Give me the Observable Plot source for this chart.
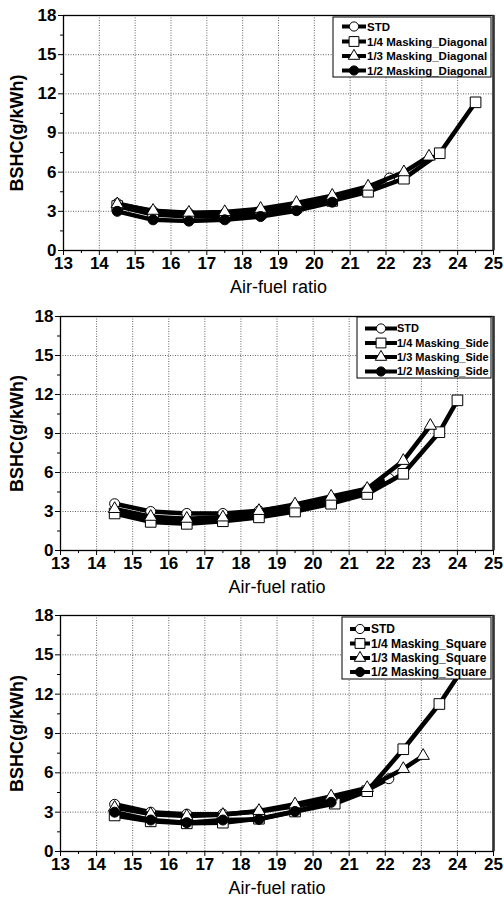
<!DOCTYPE html>
<html>
<head>
<meta charset="utf-8">
<script src="https://cdn.jsdelivr.net/npm/d3@7"></script>
<script src="https://cdn.jsdelivr.net/npm/@observablehq/plot@0.6"></script>
<style>
  body { margin: 0; background: white; }
  #chart svg { display: block; }
</style>
</head>
<body>
<div id="chart"></div>
<script>
// ---------- data ----------
const xTicks = [13,14,15,16,17,18,19,20,21,22,23,24,25];
const yTicks = [0,3,6,9,12,15,18];
const xTitle = "Air-fuel ratio";
const yTitle = "BSHC(g/kWh)";

const afrSTD  = [14.5,15.5,16.5,17.5,18.5,19.5,20.5,21.5,22.1];
const bshcSTD = [3.6,3.0,2.85,2.85,3.05,3.45,3.95,4.7,5.55];

// Panel 1: Diagonal
const afrDiag14  = [14.5,15.5,16.5,17.5,18.5,19.5,20.5,21.5,22.5,23.5,24.5];
const bshcDiag14 = [3.4,2.75,2.6,2.6,2.85,3.3,3.8,4.5,5.5,7.45,11.35];
const afrDiag13  = [14.5,15.5,16.5,17.5,18.5,19.5,20.5,21.5,22.5,23.2];
const bshcDiag13 = [3.55,3.05,2.9,2.95,3.2,3.65,4.2,4.9,6.0,7.2];
const afrDiag12  = [14.5,15.5,16.5,17.5,18.5,19.5,20.5];
const bshcDiag12 = [3.0,2.35,2.25,2.35,2.6,3.05,3.7];

// Panel 2: Side
const afrSide14  = [14.5,15.5,16.5,17.5,18.5,19.5,20.5,21.5,22.5,23.5,24.0];
const bshcSide14 = [2.85,2.2,2.05,2.25,2.55,3.0,3.6,4.35,5.9,9.1,11.55];
const afrSide13  = [14.5,15.5,16.5,17.5,18.5,19.5,20.5,21.5,22.5,23.25];
const bshcSide13 = [3.2,2.6,2.45,2.55,3.05,3.55,4.15,4.75,6.9,9.6];
const afrSide12  = [14.5,15.5,16.5,17.5,18.5,19.5,20.5,21.5];
const bshcSide12 = [3.0,2.4,2.3,2.4,2.8,3.3,3.85,4.5];

// Panel 3: Square
const afrSq14  = [14.5,15.5,16.5,17.5,18.5,19.5,20.6,21.5,22.5,23.5,24.5];
const bshcSq14 = [2.75,2.3,2.15,2.2,2.5,3.05,3.65,4.6,7.8,11.25,15.4];
const afrSq13  = [14.5,15.5,16.5,17.5,18.5,19.5,20.5,21.5,22.5,23.05];
const bshcSq13 = [3.35,2.85,2.7,2.8,3.1,3.6,4.2,4.85,6.3,7.3];
const afrSq12  = [14.5,15.5,16.5,17.5,18.5,19.5,20.5];
const bshcSq12 = [3.0,2.4,2.2,2.4,2.45,3.05,3.75];

const panelNames = ["Diagonal","Side","Square"];

// ---------- helpers ----------
const zip = (xs, ys) => xs.map((x, i) => ({x, y: ys[i]}));
const styles = [
  {symbol: "circle",   r: 5,   fill: "white"},   // STD
  {symbol: "square",   r: 6,   fill: "white"},   // 1/4
  {symbol: "triangle", r: 4.6, fill: "white"},   // 1/3
  {symbol: "circle",   r: 5,   fill: "black"}    // 1/2
];

function makePanel(cfg) {
  const {series, labels, order, height, mt, mb, ml, mr, legend} = cfg;
  const marks = [
    Plot.gridX(xTicks.slice(1, -1), {stroke: "#666", strokeOpacity: 1, strokeWidth: 1, strokeDasharray: "1,1.5"}),
    Plot.gridY(yTicks.slice(1, -1), {stroke: "#666", strokeOpacity: 1, strokeWidth: 1, strokeDasharray: "1,1.5"}),
  ];
  for (const i of order) {
    const s = styles[i];
    marks.push(Plot.line(series[i], {x: "x", y: "y", stroke: "black", strokeWidth: 4.5, strokeLinejoin: "round"}));
    marks.push(Plot.dot(series[i], {x: "x", y: "y", symbol: () => s.symbol, r: s.r, fill: s.fill, stroke: "black", strokeWidth: 1}));
  }
  marks.push(
    Plot.frame({stroke: "black", strokeWidth: 1.3}),
    Plot.ruleX([25], {stroke: "#333", strokeWidth: 2.6}),
    Plot.axisX(xTicks, {tickSize: 5, tickPadding: 1, fontSize: 17, fontWeight: "bold", label: null}),
    Plot.axisX(d3.range(13.5, 25, 1), {tickSize: 3, tickFormat: () => "", label: null}),
    Plot.axisY(yTicks, {tickSize: 5, tickPadding: 2, fontSize: 17, fontWeight: "bold", label: null}),
    Plot.axisY(d3.range(1.5, 18, 3), {tickSize: 3, tickFormat: () => "", label: null}),
    Plot.text([xTitle], {frameAnchor: "bottom", dy: 42, fontSize: 18, fill: "black"}),
    Plot.text([yTitle], {frameAnchor: "left", textAnchor: "middle", rotate: -90, dx: 17 - ml, fontSize: 18, fontWeight: "bold", fill: "black"})
  );
  const svg = Plot.plot({
    width: 504,
    height,
    marginTop: mt, marginBottom: mb, marginLeft: ml, marginRight: mr,
    x: {domain: [13, 25], axis: null},
    y: {domain: [0, 18], axis: null},
    style: {fontFamily: "'Liberation Sans', Arial, sans-serif", background: "white", color: "black", overflow: "visible"},
    marks
  });

  // legend box
  const g = d3.select(svg).append("g").attr("text-anchor", "start");
  g.append("rect")
    .attr("x", legend.x0).attr("y", legend.y0)
    .attr("width", legend.x1 - legend.x0).attr("height", legend.y1 - legend.y0)
    .attr("fill", "white").attr("stroke", "black").attr("stroke-width", 1);
  labels.forEach((lab, i) => {
    const cy = legend.rows[i];
    const s = styles[i];
    g.append("line").attr("x1", legend.lx0).attr("x2", legend.lx1)
      .attr("y1", cy).attr("y2", cy).attr("stroke", "black").attr("stroke-width", 4);
    const sym = s.symbol === "circle" ? d3.symbolCircle : s.symbol === "square" ? d3.symbolSquare : d3.symbolTriangle;
    g.append("path").attr("d", d3.symbol(sym, Math.PI * s.r * s.r * 0.85)())
      .attr("transform", `translate(${(legend.lx0 + legend.lx1) / 2},${cy})`)
      .attr("fill", s.fill).attr("stroke", "black").attr("stroke-width", 1);
    g.append("text").attr("x", legend.tx).attr("y", cy).attr("dy", "0.36em")
      .attr("text-anchor", "start")
      .attr("font-size", legend.fs).attr("font-weight", "bold").attr("fill", "black")
      .attr("font-family", "'Liberation Sans', Arial, sans-serif")
      .text(lab);
  });
  return svg;
}

const legendLabels = name => ["STD", `1/4 Masking_${name}`, `1/3 Masking_${name}`, `1/2 Masking_${name}`];

const root = document.getElementById("chart");
root.appendChild(makePanel({
  series: [zip(afrSTD, bshcSTD), zip(afrDiag14, bshcDiag14), zip(afrDiag13, bshcDiag13), zip(afrDiag12, bshcDiag12)],
  labels: legendLabels(panelNames[0]),
  order: [0, 1, 2, 3],
  height: 300, mt: 15, mb: 50, ml: 63, mr: 11,
  legend: {x0: 333, x1: 491, y0: 17, y1: 77, rows: [26.5, 41.5, 56, 70.5], lx0: 342, lx1: 366, tx: 367, fs: 11.5}
}));
root.appendChild(makePanel({
  series: [zip(afrSTD, bshcSTD), zip(afrSide14, bshcSide14), zip(afrSide13, bshcSide13), zip(afrSide12, bshcSide12)],
  labels: legendLabels(panelNames[1]),
  order: [3, 0, 1, 2],
  height: 300, mt: 16, mb: 50, ml: 60, mr: 11,
  legend: {x0: 357, x1: 491, y0: 17, y1: 78, rows: [28.5, 43, 57, 71.5], lx0: 365, lx1: 397, tx: 397, fs: 11}
}));
root.appendChild(makePanel({
  series: [zip(afrSTD, bshcSTD), zip(afrSq14, bshcSq14), zip(afrSq13, bshcSq13), zip(afrSq12, bshcSq12)],
  labels: legendLabels(panelNames[2]),
  order: [0, 1, 2, 3],
  height: 305, mt: 15, mb: 54, ml: 60, mr: 11,
  legend: {x0: 342, x1: 491, y0: 17, y1: 79, rows: [29, 43.5, 58, 72], lx0: 350, lx1: 370, tx: 371, fs: 12}
}));
</script>
</body>
</html>
